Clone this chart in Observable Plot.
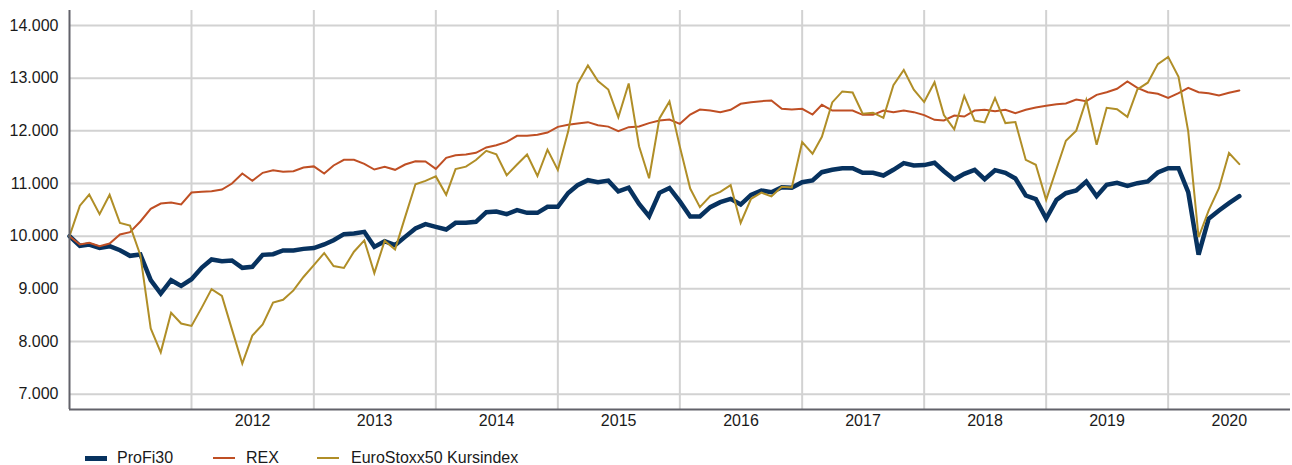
<!DOCTYPE html>
<html>
<head>
<meta charset="utf-8">
<script src="https://cdn.jsdelivr.net/npm/d3@7"></script>
<script src="https://cdn.jsdelivr.net/npm/@observablehq/plot@0.6"></script>
<style>
  html, body { margin: 0; padding: 0; background: #fff; }
  #wrap { position: relative; width: 1292px; height: 465px; font-family: "Liberation Sans", Arial, sans-serif; }
  .leg { position: absolute; top: 449px; height: 18px; font-size: 16px; color: #1a1a1a; line-height: 18px; white-space: nowrap; }
  .sw { position: absolute; top: 9px; height: 0; }
</style>
</head>
<body>
<div id="wrap">
  <div id="chart"></div>
  <div class="leg" style="left:85px"><span class="sw" style="left:0;width:22px;border-top:5px solid #07325f;margin-top:-2.5px"></span><span style="position:absolute;left:32px">ProFi30</span></div>
  <div class="leg" style="left:213px"><span class="sw" style="left:0;width:22px;border-top:2px solid #bf4f24;margin-top:-1px"></span><span style="position:absolute;left:33px">REX</span></div>
  <div class="leg" style="left:317px"><span class="sw" style="left:0;width:22px;border-top:2px solid #b08e27;margin-top:-1px"></span><span style="position:absolute;left:34px">EuroStoxx50 Kursindex</span></div>
</div>
<script>
// Series (monthly, starting Jan 2011)
const startYear = 2011;
const seriesNames = ["ProFi30", "REX", "EuroStoxx50 Kursindex"];
const seriesColors = ["#07325f", "#bf4f24", "#b08e27"];
const seriesWidths = [4.5, 2, 2];

const profi30 = [10000,9816,9842,9778,9810,9734,9627,9652,9164,8911,9164,9057,
  9183,9405,9557,9525,9538,9399,9418,9646,9658,9728,9728,9759,
  9775,9842,9924,10038,10051,10082,9797,9905,9829,9987,10146,10228,
  10177,10127,10253,10253,10272,10456,10468,10418,10494,10443,10443,10557,
  10557,10820,10968,11063,11025,11055,10850,10920,10610,10380,10823,10915,
  10660,10373,10373,10551,10646,10709,10601,10785,10867,10835,10930,10918,
  11025,11057,11215,11260,11291,11291,11203,11203,11152,11260,11386,11342,
  11350,11393,11234,11076,11184,11260,11082,11253,11203,11095,10772,10703,
  10335,10690,10816,10867,11038,10759,10975,11013,10956,11006,11038,11209,
  11291,11291,10835,9650,10329,10487,10627,10759];

const rex = [10000,9842,9873,9810,9861,10032,10076,10279,10519,10620,10639,10601,
  10829,10842,10855,10886,11000,11190,11051,11203,11253,11222,11234,11304,
  11325,11190,11342,11450,11450,11374,11266,11317,11260,11361,11424,11418,
  11279,11488,11538,11551,11583,11684,11728,11791,11905,11905,11924,11968,
  12076,12115,12140,12165,12105,12080,11995,12070,12082,12146,12196,12215,
  12133,12310,12405,12386,12355,12399,12513,12545,12564,12576,12418,12405,
  12418,12310,12494,12386,12386,12386,12304,12304,12386,12355,12386,12355,
  12298,12209,12197,12291,12272,12386,12399,12374,12399,12336,12399,12443,
  12475,12505,12520,12595,12563,12684,12734,12798,12937,12817,12734,12703,
  12627,12715,12817,12734,12715,12671,12722,12766];

const eurostoxx = [10000,10580,10790,10418,10785,10250,10200,9640,8247,7795,8545,8342,
  8297,8648,8995,8867,8230,7582,8112,8323,8738,8792,8970,9225,
  9450,9680,9432,9397,9705,9920,9300,9915,9745,10362,10985,11050,
  11135,10785,11273,11320,11446,11620,11555,11157,11360,11551,11142,11643,
  11258,11990,12893,13242,12947,12784,12258,12900,11708,11100,12236,12558,
  11700,10904,10552,10760,10842,10968,10250,10710,10826,10755,10938,10926,
  11785,11566,11888,12540,12748,12728,12324,12345,12248,12866,13156,12780,
  12546,12923,12300,12028,12664,12196,12159,12624,12147,12168,11448,11355,
  10690,11280,11812,12003,12585,11735,12438,12410,12265,12788,12914,13267,
  13404,13026,11990,9980,10485,10910,11578,11368];

const yTicks = [7000, 8000, 9000, 10000, 11000, 12000, 13000, 14000];
const yearLabels = [2012, 2013, 2014, 2015, 2016, 2017, 2018, 2019, 2020];

const seriesValues = [profi30, rex, eurostoxx];
const data = [];
seriesValues.forEach((vals, s) => vals.forEach((v, i) => data.push({
  date: new Date(Date.UTC(startYear, i, 1)), value: v, series: seriesNames[s]
})));

const xStart = new Date(Date.UTC(startYear, 0, 1));
const xEnd = new Date(Date.UTC(yearLabels[yearLabels.length - 1] + 1, 0, 1));
const yearStarts = yearLabels.map(y => new Date(Date.UTC(y, 0, 1)));
const yearMids = yearLabels.map(y => new Date(Date.UTC(y, 6, 2)));
const yMin = 6709, yMax = 14285;

const de = d3.formatLocale({decimal: ",", thousands: ".", grouping: [3], currency: ["", " €"]});
const fmt = de.format(",.0f");

const chart = Plot.plot({
  width: 1292,
  height: 440,
  marginLeft: 69,
  marginRight: 2,
  marginTop: 10,
  marginBottom: 31,
  style: {fontFamily: "'Liberation Sans', Arial, sans-serif", fontSize: "16px", color: "#1a1a1a", background: "#fff"},
  x: {type: "utc", domain: [xStart, xEnd]},
  y: {domain: [yMin, yMax]},
  marks: [
    Plot.ruleY(yTicks, {stroke: "#d2d2d2", strokeWidth: 2}),
    Plot.ruleX(yearStarts, {stroke: "#d2d2d2", strokeWidth: 2}),
    Plot.axisY({ticks: yTicks, tickSize: 0, tickPadding: 11, tickFormat: fmt, label: null}),
    Plot.axisX({ticks: yearMids, tickSize: 0, tickPadding: 5, tickFormat: d => String(d.getUTCFullYear()), label: null}),
    ...seriesNames.map((name, s) => Plot.lineY(data.filter(d => d.series === name), {
      x: "date", y: "value", stroke: seriesColors[s], strokeWidth: seriesWidths[s], strokeLinejoin: "miter", strokeMiterlimit: 4
    })),
    Plot.ruleX([xStart], {stroke: "#62626a", strokeWidth: 2}),
    Plot.ruleY([yMin], {stroke: "#62626a", strokeWidth: 2})
  ]
});
document.getElementById("chart").appendChild(chart);
</script>
</body>
</html>
